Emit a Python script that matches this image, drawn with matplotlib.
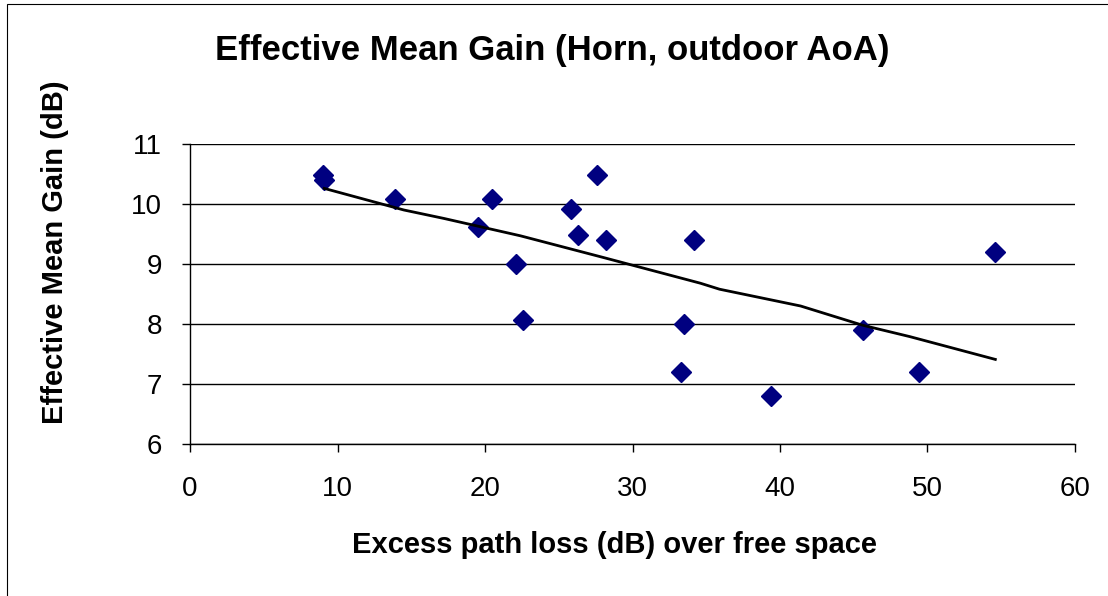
import matplotlib.pyplot as plt
from matplotlib.patches import Rectangle

# Measured points: excess path loss (dB) vs effective mean gain (dB)
path_loss = [9.0, 9.1, 13.9, 19.55, 20.5, 22.1, 22.55, 25.8, 26.3, 27.6,
             28.2, 33.3, 33.5, 34.2, 39.4, 45.65, 49.45, 54.6]
mean_gain = [10.48, 10.4, 10.08, 9.61, 10.08, 9.0, 8.07, 9.92, 9.48, 10.48,
             9.4, 7.2, 8.0, 9.4, 6.8, 7.9, 7.2, 9.2]

# Trend line vertices
trend_x = [9.1, 14.5, 17.2, 22.4, 28.0, 34.6, 35.9, 41.4, 45.6, 48.8, 54.6]
trend_y = [10.26, 9.9, 9.76, 9.47, 9.11, 8.68, 8.58, 8.3, 7.98, 7.79, 7.41]

x_ticks = [0, 10, 20, 30, 40, 50, 60]
y_ticks = [6, 7, 8, 9, 10, 11]

plt.rcParams['font.family'] = ['Liberation Sans', 'DejaVu Sans']

fig = plt.figure(figsize=(11.08, 5.96), dpi=100)
ax = fig.add_axes([0.1715, 0.255, 0.7987, 0.5034])

# outer chart border (left/top visible)
fig.patches.append(Rectangle((0.0063, -0.01), 1.02, 1.0033, transform=fig.transFigure,
                             fill=False, edgecolor='black', linewidth=0.8))

ax.plot(path_loss, mean_gain, linestyle='none', marker='D', markersize=10,
        color='#000080', zorder=3)
ax.plot(trend_x, trend_y, color='black', linewidth=2, zorder=4)

ax.set_xlim(0, 60)
ax.set_ylim(6, 11)
ax.set_xticks(x_ticks)
ax.set_yticks(y_ticks)
ax.yaxis.grid(True, color='black', linewidth=1.0)
ax.set_axisbelow(True)

for s in ['top', 'right']:
    ax.spines[s].set_visible(False)
ax.spines['left'].set_linewidth(1.0)
ax.spines['bottom'].set_linewidth(1.0)
ax.tick_params(axis='both', labelsize=20, length=6, direction='out', width=1.0)
ax.tick_params(axis='y', pad=14)
ax.tick_params(axis='x', pad=17)

fig.text(0.498, 0.916, 'Effective Mean Gain (Horn, outdoor AoA)', ha='center', va='center',
         fontsize=25, fontweight='bold')
fig.text(0.555, 0.085, 'Excess path loss (dB) over free space', ha='center', va='center',
         fontsize=21, fontweight='bold')
fig.text(0.05, 0.577, 'Effective Mean Gain (dB)', ha='center', va='center',
         rotation=90, fontsize=21, fontweight='bold')

fig.savefig('out.png', dpi=100)
